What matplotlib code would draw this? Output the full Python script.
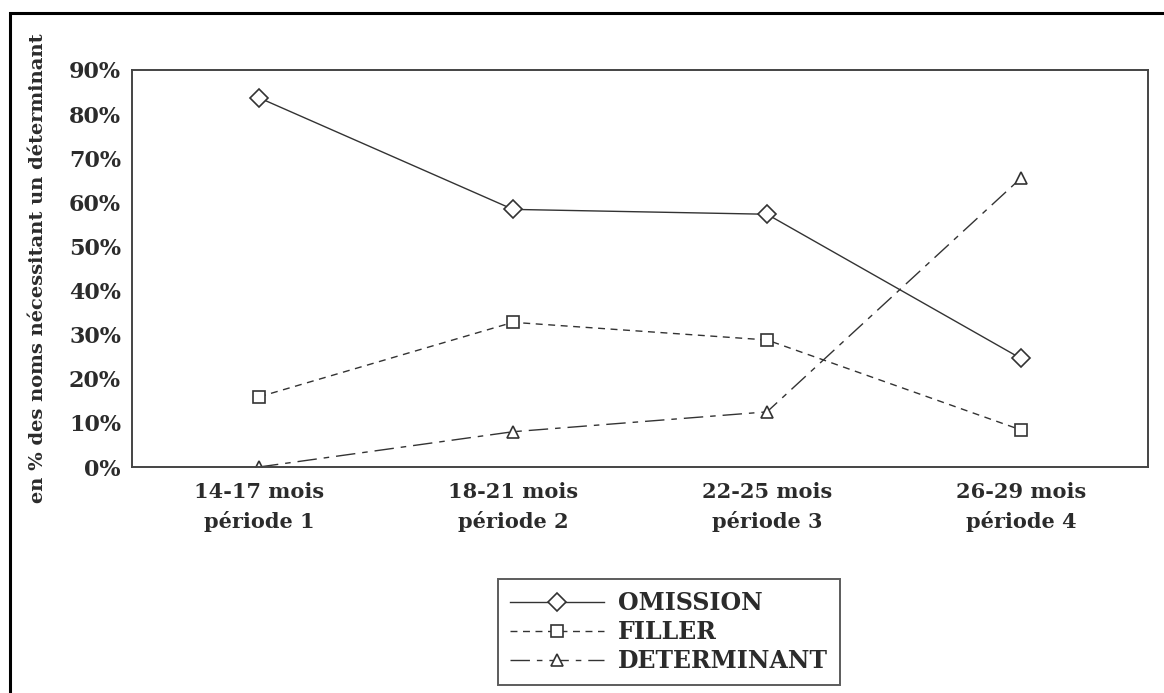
import matplotlib
matplotlib.use("Agg")
import matplotlib.pyplot as plt
from matplotlib.patches import Rectangle

# data
periodes = ["14-17 mois\npériode 1", "18-21 mois\npériode 2",
            "22-25 mois\npériode 3", "26-29 mois\npériode 4"]
x = [1, 2, 3, 4]
omission = [83.7, 58.4, 57.3, 24.6]
filler = [15.9, 32.8, 28.8, 8.4]
determinant = [0.0, 8.0, 12.5, 65.5]
yticks = [0, 10, 20, 30, 40, 50, 60, 70, 80, 90]

plt.rcParams['font.family'] = ['DejaVu Serif']
plt.rcParams['font.weight'] = 'bold'
txt = '#2b2b2b'

fig = plt.figure(figsize=(11.64, 6.93), dpi=100)
ax = fig.add_axes([132/1164, 1 - 467/693, (1148-132)/1164, (467-70)/693])

ax.plot(x, omission, color='#333333', lw=1.0, ls='-', marker='D',
        ms=9.5, mfc='white', mec='#333333', mew=1.2, label='OMISSION')
ax.plot(x, filler, color='#333333', lw=1.0, ls=(0, (5, 4)), marker='s',
        ms=9, mfc='white', mec='#333333', mew=1.2, label='FILLER')
ax.plot(x, determinant, color='#333333', lw=1.0, ls=(0, (14, 5, 4, 5)),
        marker='^', ms=9, mfc='white', mec='#333333', mew=1.2,
        label='DETERMINANT')

ax.set_xlim(0.5, 4.5)
ax.set_ylim(0, 90)
ax.set_yticks(yticks)
ax.set_yticklabels([f"{v}%" for v in yticks])
ax.set_xticks(x)
ax.set_xticklabels(periodes, linespacing=1.5)
ax.tick_params(length=0, labelsize=16, colors=txt, pad=8)
ax.tick_params(axis='x', labelsize=15, pad=11)
for s in ax.spines.values():
    s.set_color('#444444')
    s.set_linewidth(1.4)

fig.text(38/1164, 1 - 268/693, "en % des noms nécessitant un déterminant",
         rotation=90, ha='center', va='center', fontsize=14, color=txt)

leg = fig.legend(loc='center', bbox_to_anchor=(669/1164, 1 - 632/693),
                 fontsize=17, frameon=True, fancybox=False, handlelength=4.0,
                 handletextpad=0.6, labelspacing=0.22, borderpad=0.5,
                 borderaxespad=0.0, labelcolor=txt)
leg.get_frame().set_edgecolor('#333333')
leg.get_frame().set_linewidth(1.4)

# outer frame, right and bottom edges fall outside the image
fig.patches.append(Rectangle((10/1164, -0.05), 1.1, 1 - 13/693 + 0.05,
                             transform=fig.transFigure, fill=False,
                             edgecolor='black', lw=2.2))

fig.savefig("out.png", dpi=100)
